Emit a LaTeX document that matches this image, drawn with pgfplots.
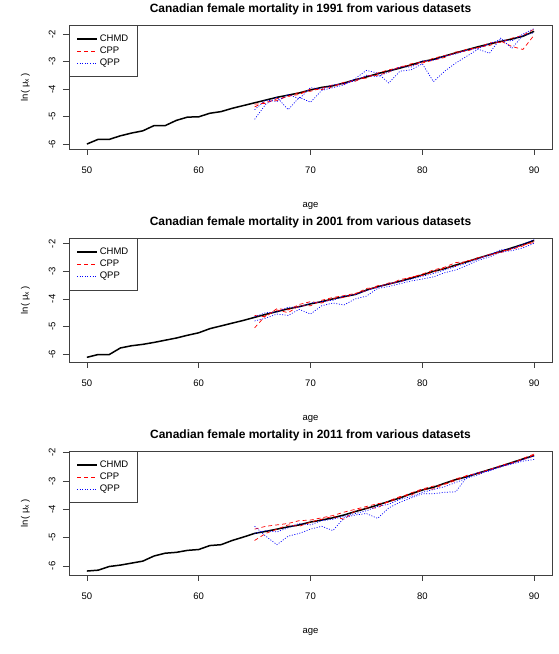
\documentclass[border=0pt]{standalone}
\usepackage{fontspec}
\setmainfont{Liberation Sans}
\usepackage{pgfplots}
\usepackage{pgfplotstable}
\pgfplotsset{compat=1.18}

\pgfplotstableread{
age  a   b   c
50 -6.00 -6.12 -6.18
51 -5.83 -6.02 -6.15
52 -5.83 -6.02 -6.02
53 -5.70 -5.78 -5.97
54 -5.60 -5.70 -5.90
55 -5.52 -5.65 -5.83
56 -5.33 -5.58 -5.65
57 -5.33 -5.50 -5.55
58 -5.14 -5.42 -5.52
59 -5.02 -5.32 -5.45
60 -5.01 -5.23 -5.42
61 -4.88 -5.08 -5.28
62 -4.82 -4.98 -5.25
63 -4.70 -4.88 -5.10
64 -4.60 -4.78 -4.98
65 -4.50 -4.67 -4.85
66 -4.40 -4.56 -4.78
67 -4.30 -4.46 -4.70
68 -4.22 -4.36 -4.62
69 -4.14 -4.28 -4.55
70 -4.03 -4.18 -4.45
71 -3.94 -4.10 -4.38
72 -3.88 -4.00 -4.30
73 -3.78 -3.92 -4.20
74 -3.66 -3.84 -4.08
75 -3.56 -3.68 -3.97
76 -3.44 -3.56 -3.85
77 -3.34 -3.46 -3.72
78 -3.24 -3.36 -3.60
79 -3.12 -3.25 -3.45
80 -3.00 -3.13 -3.32
81 -2.92 -3.00 -3.22
82 -2.80 -2.90 -3.08
83 -2.68 -2.77 -2.95
84 -2.57 -2.65 -2.85
85 -2.46 -2.52 -2.72
86 -2.36 -2.40 -2.60
87 -2.27 -2.28 -2.48
88 -2.18 -2.15 -2.35
89 -2.08 -2.02 -2.22
90 -1.90 -1.88 -2.10
}\chmd

\pgfplotstableread{
age ca1 ca2 qa1 qa2 cb1 cb2 qb1 qb2 cc1 cc2 qc1 qc2
65 -4.55 -4.65 -5.10 -4.75 -5.05 -4.60 -4.80 -4.65 -5.10 -4.70 -4.60 -4.85
66 -4.52 -4.45 -4.55 -4.40 -4.60 -4.65 -4.70 -4.50 -4.85 -4.60 -4.95 -4.75
67 -4.35 -4.42 -4.30 -4.45 -4.40 -4.35 -4.55 -4.48 -4.70 -4.55 -5.25 -4.80
68 -4.28 -4.25 -4.75 -4.20 -4.50 -4.40 -4.60 -4.30 -4.55 -4.50 -4.95 -4.65
69 -4.12 -4.20 -4.30 -4.35 -4.25 -4.20 -4.38 -4.30 -4.60 -4.40 -4.85 -4.50
70 -4.08 -4.00 -4.48 -3.95 -4.25 -4.10 -4.55 -4.15 -4.45 -4.38 -4.70 -4.55
71 -3.97 -4.02 -4.05 -4.00 -4.05 -4.15 -4.25 -4.10 -4.35 -4.30 -4.60 -4.40
72 -3.85 -3.92 -3.95 -3.85 -3.95 -3.98 -4.15 -4.05 -4.25 -4.22 -4.75 -4.35
73 -3.82 -3.75 -3.85 -3.80 -3.88 -3.95 -4.22 -3.90 -4.35 -4.10 -4.30 -4.25
74 -3.65 -3.72 -3.62 -3.70 -3.80 -3.82 -4.00 -3.85 -4.05 -4.00 -4.20 -4.15
75 -3.60 -3.52 -3.32 -3.50 -3.70 -3.62 -3.90 -3.70 -3.95 -3.90 -4.15 -4.05
76 -3.42 -3.50 -3.42 -3.55 -3.52 -3.58 -3.62 -3.58 -3.95 -3.80 -4.32 -3.90
77 -3.30 -3.38 -3.78 -3.38 -3.48 -3.42 -3.55 -3.45 -3.70 -3.75 -3.95 -3.82
78 -3.22 -3.18 -3.35 -3.20 -3.30 -3.38 -3.45 -3.38 -3.55 -3.58 -3.75 -3.65
79 -3.08 -3.15 -3.30 -3.20 -3.22 -3.20 -3.35 -3.28 -3.50 -3.42 -3.60 -3.55
80 -3.02 -3.05 -3.08 -2.98 -3.10 -3.15 -3.28 -3.18 -3.30 -3.28 -3.45 -3.40
81 -2.88 -2.95 -3.73 -2.95 -2.95 -3.02 -3.20 -3.08 -3.28 -3.18 -3.45 -3.30
82 -2.78 -2.85 -3.35 -2.80 -2.85 -2.88 -3.05 -2.95 -3.10 -3.12 -3.40 -3.20
83 -2.70 -2.65 -3.05 -2.72 -2.68 -2.80 -2.95 -2.82 -2.92 -2.98 -3.38 -3.05
84 -2.55 -2.62 -2.80 -2.58 -2.65 -2.62 -2.78 -2.70 -2.82 -2.80 -2.85 -2.90
85 -2.50 -2.48 -2.55 -2.52 -2.50 -2.55 -2.60 -2.55 -2.70 -2.75 -2.70 -2.78
86 -2.32 -2.42 -2.70 -2.35 -2.42 -2.38 -2.48 -2.40 -2.62 -2.58 -2.65 -2.62
87 -2.30 -2.25 -2.15 -2.20 -2.28 -2.32 -2.30 -2.22 -2.45 -2.50 -2.50 -2.48
88 -2.15 -2.45 -2.52 -2.25 -2.18 -2.20 -2.25 -2.18 -2.35 -2.38 -2.40 -2.38
89 -2.05 -2.56 -2.05 -2.00 -2.05 -2.08 -2.15 -2.02 -2.25 -2.20 -2.30 -2.25
90 -1.82 -2.04 -1.95 -1.80 -1.95 -1.90 -1.98 -1.85 -2.08 -2.05 -2.24 -2.12
}\other

\newcommand{\fs}{\fontsize{9.5}{11}\selectfont}

\pgfplotsset{
  mort/.style={
    scale only axis, width=483pt, height=124pt,
    anchor=south west,
    xmin=48.4, xmax=91.6,
    xtick={50,60,70,80,90}, xticklabels={50,60,70,80,90},
    ytick={-6,-5,-4,-3,-2}, yticklabels={-6,-5,-4,-3,-2},
    xtick pos=left, ytick pos=left, tick align=outside,
    major tick length=6pt,
    axis line style={black!75, line width=0.7pt},
    every tick/.style={black!75, line width=0.6pt},
    tick label style={font=\fs},
    xticklabel shift=8pt,
    yticklabel style={rotate=90, anchor=south},
    yticklabel shift=4pt,
    xlabel={age}, ylabel={ln( μ\textsubscript{x} )},
    label style={font=\fs},
    xlabel style={at={(axis description cs:0.5,-0.472)}, anchor=base},
    ylabel style={at={(axis description cs:-0.085,0.5)}, anchor=base},
    every axis title shift=0pt,
    title style={at={(axis description cs:0.5,1.102)}, anchor=base, font=\fontsize{12}{14}\selectfont\bfseries},
    legend image code/.code={\draw[##1] (0pt,0pt) -- (20pt,0pt);},
    legend style={at={(0,1)}, anchor=north west, draw=black!75, line width=0.6pt,
      fill=white, font=\fs, inner xsep=7pt, inner ysep=8pt, row sep=0.5pt,
      nodes={inner ysep=1.5pt, text height=7pt, text depth=1.5pt}},
    legend cell align=left,
  },
}

\newcommand{\legendset}{%
  \addlegendimage{draw=black, line width=1.5pt}\addlegendentry{CHMD}
  \addlegendimage{draw=red, line width=0.9pt, dash pattern=on 4pt off 3pt}\addlegendentry{CPP}
  \addlegendimage{draw=blue, line width=0.9pt, dash pattern=on 1pt off 1.6pt}\addlegendentry{QPP}
}

\begin{document}
\begin{tikzpicture}
\useasboundingbox (0,0) rectangle (558pt,654pt);

\begin{axis}[mort, at={(69pt,505pt)}, ymin=-6.18, ymax=-1.67,
  title={Canadian female mortality in 1991 from various datasets}]
  \legendset
  \addplot[draw=black, line width=1.5pt, forget plot] table[x=age, y=a] {\chmd};
  \addplot[draw=red, line width=0.7pt, dash pattern=on 4pt off 3pt, forget plot] table[x=age, y=ca1] {\other};
  \addplot[draw=red, line width=0.7pt, dash pattern=on 4pt off 3pt, forget plot] table[x=age, y=ca2] {\other};
  \addplot[draw=blue, line width=0.7pt, dash pattern=on 1pt off 1.6pt, forget plot] table[x=age, y=qa1] {\other};
  \addplot[draw=blue, line width=0.7pt, dash pattern=on 1pt off 1.6pt, forget plot] table[x=age, y=qa2] {\other};
\end{axis}

\begin{axis}[mort, at={(69pt,292pt)}, ymin=-6.29, ymax=-1.79,
  title={Canadian female mortality in 2001 from various datasets}]
  \legendset
  \addplot[draw=black, line width=1.5pt, forget plot] table[x=age, y=b] {\chmd};
  \addplot[draw=red, line width=0.7pt, dash pattern=on 4pt off 3pt, forget plot] table[x=age, y=cb1] {\other};
  \addplot[draw=red, line width=0.7pt, dash pattern=on 4pt off 3pt, forget plot] table[x=age, y=cb2] {\other};
  \addplot[draw=blue, line width=0.7pt, dash pattern=on 1pt off 1.6pt, forget plot] table[x=age, y=qb1] {\other};
  \addplot[draw=blue, line width=0.7pt, dash pattern=on 1pt off 1.6pt, forget plot] table[x=age, y=qb2] {\other};
\end{axis}

\begin{axis}[mort, at={(69pt,79pt)}, ymin=-6.32, ymax=-1.94,
  title={Canadian female mortality in 2011 from various datasets}]
  \legendset
  \addplot[draw=black, line width=1.5pt, forget plot] table[x=age, y=c] {\chmd};
  \addplot[draw=red, line width=0.7pt, dash pattern=on 4pt off 3pt, forget plot] table[x=age, y=cc1] {\other};
  \addplot[draw=red, line width=0.7pt, dash pattern=on 4pt off 3pt, forget plot] table[x=age, y=cc2] {\other};
  \addplot[draw=blue, line width=0.7pt, dash pattern=on 1pt off 1.6pt, forget plot] table[x=age, y=qc1] {\other};
  \addplot[draw=blue, line width=0.7pt, dash pattern=on 1pt off 1.6pt, forget plot] table[x=age, y=qc2] {\other};
\end{axis}
\end{tikzpicture}
\end{document}
